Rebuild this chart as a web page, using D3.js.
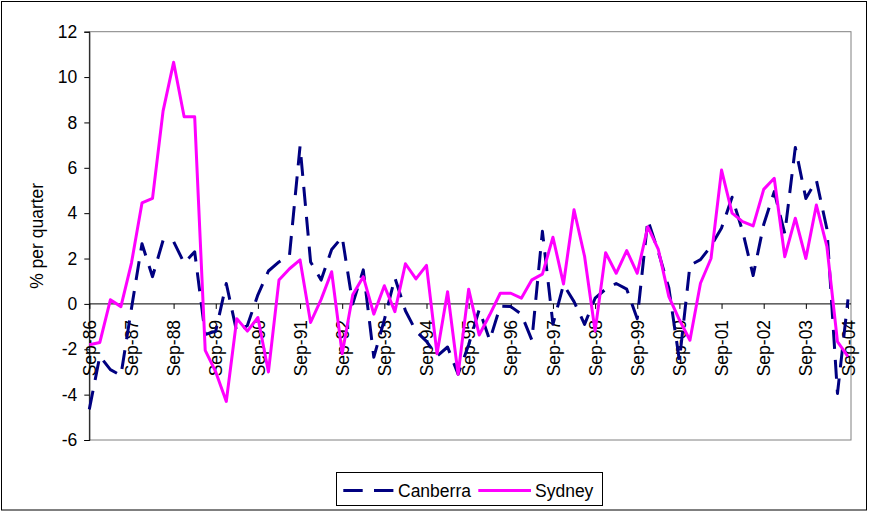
<!DOCTYPE html>
<html>
<head>
<meta charset="utf-8">
<script src="https://cdn.jsdelivr.net/npm/d3@7"></script>
<style>
  html, body { margin: 0; padding: 0; background: #fff; }
  svg text { font-family: "Liberation Sans", Arial, sans-serif; fill: #000; }
</style>
</head>
<body>
<svg id="chart" width="869" height="512"></svg>
<script>
const categories = [
  "Sep-86","Dec-86","Mar-87","Jun-87","Sep-87","Dec-87","Mar-88","Jun-88",
  "Sep-88","Dec-88","Mar-89","Jun-89","Sep-89","Dec-89","Mar-90","Jun-90",
  "Sep-90","Dec-90","Mar-91","Jun-91","Sep-91","Dec-91","Mar-92","Jun-92",
  "Sep-92","Dec-92","Mar-93","Jun-93","Sep-93","Dec-93","Mar-94","Jun-94",
  "Sep-94","Dec-94","Mar-95","Jun-95","Sep-95","Dec-95","Mar-96","Jun-96",
  "Sep-96","Dec-96","Mar-97","Jun-97","Sep-97","Dec-97","Mar-98","Jun-98",
  "Sep-98","Dec-98","Mar-99","Jun-99","Sep-99","Dec-99","Mar-00","Jun-00",
  "Sep-00","Dec-00","Mar-01","Jun-01","Sep-01","Dec-01","Mar-02","Jun-02",
  "Sep-02","Dec-02","Mar-03","Jun-03","Sep-03","Dec-03","Mar-04","Jun-04",
  "Sep-04"
];
const tickLabels = ["Sep-86","Sep-87","Sep-88","Sep-89","Sep-90","Sep-91","Sep-92",
  "Sep-93","Sep-94","Sep-95","Sep-96","Sep-97","Sep-98","Sep-99","Sep-00",
  "Sep-01","Sep-02","Sep-03","Sep-04"];
const yTicks = [-6, -4, -2, 0, 2, 4, 6, 8, 10, 12];
const seriesNames = ["Canberra", "Sydney"];
const canberra = [
  -4.65, -2.3, -2.9, -3.15, -0.2, 2.65, 1.2, 2.8,
  2.75, 1.8, 2.3, -1.35, -1.2, 0.9, -1.25, -0.95,
  0.4, 1.45, 1.85, 2.15, 6.95, 1.85, 1.05, 2.4,
  2.95, 0.0, 1.5, -2.35, -0.7, 1.15, -0.3, -1.2,
  -1.65, -2.3, -1.9, -3.1, -1.8, -0.25, -1.6, -0.1,
  -0.12, -0.45, -1.6, 3.2, -0.9, 0.85, 0.1, -0.9,
  0.25, 0.65, 0.9, 0.65, -0.65, 3.7, 2.3, 0.7,
  -2.5, 1.7, 1.95, 2.55, 3.35, 4.7, 3.2, 1.25,
  3.5, 4.95, 3.1, 6.9, 4.65, 5.45, 3.3, -3.95,
  0.2
];
const sydney = [
  -1.8, -1.7, 0.18, -0.12, 1.8, 4.45, 4.65, 8.5,
  10.65, 8.25, 8.25, -2.05, -3.0, -4.3, -0.65, -1.2,
  -0.6, -3.0, 1.05, 1.55, 1.94, -0.82, 0.2, 1.42,
  -2.2, 0.4, 1.2, -0.45, 0.8, -0.34, 1.77, 1.1,
  1.7, -2.2, 0.54, -3.1, 0.65, -1.37, -0.48, 0.47,
  0.47, 0.25, 1.06, 1.31, 2.94, 0.88, 4.15, 2.1,
  -1.2, 2.26, 1.35, 2.35, 1.35, 3.4, 2.4, 0.32,
  -0.7, -1.6, 0.91, 2.0, 5.9, 4.0, 3.63, 3.44,
  5.05, 5.54, 2.08, 3.78, 2.0, 4.36, 2.52, -1.66,
  -2.32
];

const svg = d3.select("#chart");
const W = 869, H = 512;
const plot = { left: 89.3, right: 851, top: 31.7, bottom: 440 };
const fontSize = 17.5;

// outer chart border
svg.append("rect")
  .attr("x", 1.5).attr("y", 1.5).attr("width", W - 4).attr("height", H - 3.5)
  .attr("fill", "#fff").attr("stroke", "#000").attr("stroke-width", 1);

const x = d3.scalePoint().domain(categories).range([plot.left, 848]);
const y = d3.scaleLinear().domain([-6, 12]).range([plot.bottom, plot.top]);

// plot area frame
svg.append("rect")
  .attr("x", plot.left).attr("y", plot.top)
  .attr("width", plot.right - plot.left).attr("height", plot.bottom - plot.top)
  .attr("fill", "none").attr("stroke", "#808080").attr("stroke-width", 1);

// y axis
const yAxis = d3.axisLeft(y).tickValues(yTicks).tickSize(5).tickPadding(7)
  .tickFormat(d => String(d));
const gy = svg.append("g").attr("transform", `translate(${plot.left},0)`).call(yAxis);
gy.select(".domain").attr("stroke", "#000").attr("stroke-width", 1);
gy.selectAll(".tick line").attr("stroke", "#000");
gy.selectAll(".tick text").attr("font-size", fontSize)
  .attr("font-family", "Liberation Sans, Arial, sans-serif").attr("fill", "#000");

// y title
svg.append("text")
  .attr("transform", `translate(37,${(plot.top + plot.bottom) / 2}) rotate(-90)`)
  .attr("text-anchor", "middle").attr("dominant-baseline", "central")
  .attr("font-size", fontSize).text("% per quarter");

// x axis at zero
const xAxis = d3.axisBottom(x).tickValues(tickLabels).tickSize(5).tickSizeOuter(0).tickFormat(d => d);
const gx = svg.append("g").attr("transform", `translate(0,${y(0)})`).call(xAxis);
gx.select(".domain").attr("stroke", "#000").attr("stroke-width", 1)
  .attr("d", `M${plot.left},0H${plot.right}`);
gx.selectAll(".tick line").attr("stroke", "#000");
gx.selectAll(".tick text")
  .attr("font-size", fontSize)
  .attr("font-family", "Liberation Sans, Arial, sans-serif").attr("fill", "#000")
  .attr("text-anchor", "end")
  .attr("transform", "rotate(-90)")
  .attr("x", -16).attr("y", 0).attr("dy", "0.35em");

// lines
const line = d3.line().x((d, i) => x(categories[i])).y(d => y(d));

svg.append("path").datum(canberra)
  .attr("d", line).attr("fill", "none")
  .attr("stroke", "#000080").attr("stroke-width", 3)
  .attr("stroke-dasharray", "19,11").attr("stroke-linejoin", "round");

svg.append("path").datum(sydney)
  .attr("d", line).attr("fill", "none")
  .attr("stroke", "#FF00FF").attr("stroke-width", 3)
  .attr("stroke-linejoin", "round");

// legend
const lg = svg.append("g");
lg.append("rect").attr("x", 336.5).attr("y", 472.5).attr("width", 266).attr("height", 33)
  .attr("fill", "#fff").attr("stroke", "#000").attr("stroke-width", 1);
const ly = 490.5;
lg.append("line").attr("x1", 343.3).attr("x2", 394).attr("y1", ly).attr("y2", ly)
  .attr("stroke", "#000080").attr("stroke-width", 3).attr("stroke-dasharray", "19.4,11.3");
lg.append("text").attr("x", 398).attr("y", ly).attr("dy", "0.35em")
  .attr("font-size", fontSize).text(seriesNames[0]);
lg.append("line").attr("x1", 478.3).attr("x2", 531).attr("y1", ly).attr("y2", ly)
  .attr("stroke", "#FF00FF").attr("stroke-width", 3);
lg.append("text").attr("x", 535).attr("y", ly).attr("dy", "0.35em")
  .attr("font-size", fontSize).text(seriesNames[1]);
</script>
</body>
</html>
